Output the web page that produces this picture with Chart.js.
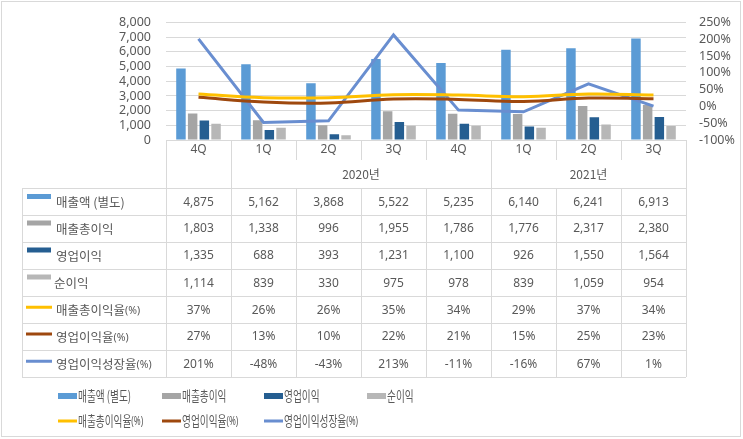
<!DOCTYPE html>
<html>
<head>
<meta charset="utf-8">
<script src="https://cdn.jsdelivr.net/npm/chart.js@4/dist/chart.umd.min.js"></script>
<style>
    body { margin: 0; background: #fff; }
    #wrap { width: 743px; height: 439px; position: relative; }
</style>
</head>
<body>
<div id="wrap"><canvas id="myChart" width="743" height="439"></canvas></div>
<script>
// data
const quarters = ["4Q", "1Q", "2Q", "3Q", "4Q", "1Q", "2Q", "3Q"];
const yearNames = ["", "2020년", "2021년"];
const yearStart = [0, 1, 5];
const yearEnd = [0, 4, 7];

const sales = [4875, 5162, 3868, 5522, 5235, 6140, 6241, 6913];
const grossProfit = [1803, 1338, 996, 1955, 1786, 1776, 2317, 2380];
const opProfit = [1335, 688, 393, 1231, 1100, 926, 1550, 1564];
const netProfit = [1114, 839, 330, 975, 978, 839, 1059, 954];
const grossMargin = [37, 26, 26, 35, 34, 29, 37, 34];
const opMargin = [27, 13, 10, 22, 21, 15, 25, 23];
const opGrowth = [201, -48, -43, 213, -11, -16, 67, 1];

const leftTicks = [0, 8000, 1000];
const rightTicks = [-100, 250, 50];

const FONT = '"Noto Sans", "Noto Sans CJK KR", sans-serif';
const KFONT = '"Noto Sans CJK KR", "Noto Sans", sans-serif';
const TEXT = "#595959";
const LINE = "#D9D9D9";

// rows of the table under the chart
const rows = [
    { name: "매출액 (별도)", pct: "", data: sales, color: "#5B9BD5", kind: "bar" },
    { name: "매출총이익", pct: "", data: grossProfit, color: "#A5A5A5", kind: "bar" },
    { name: "영업이익", pct: "", data: opProfit, color: "#255E91", kind: "bar" },
    { name: "순이익", pct: "", data: netProfit, color: "#B7B7B7", kind: "bar" },
    { name: "매출총이익율", pct: "(%)", data: grossMargin, color: "#FFC000", kind: "line" },
    { name: "영업이익율", pct: "(%)", data: opMargin, color: "#9E480E", kind: "line" },
    { name: "영업이익성장율", pct: "(%)", data: opGrowth, color: "#698ED0", kind: "line" }
];

const rowTop = [188, 214.5, 241.5, 268.5, 296, 322.5, 349.5, 377];

function fmt(row, v) {
    if (row.kind == "line") return v + "%";
    return v.toLocaleString("en-US");
}

function drawName(ctx, row, x, y, size, squeeze) {
    ctx.save();
    ctx.translate(x, y);
    ctx.scale(squeeze, 1);
    ctx.textAlign = "left";
    ctx.textBaseline = "middle";
    ctx.fillStyle = TEXT;
    ctx.font = size + "px " + KFONT;
    ctx.fillText(row.name, 0, 0);
    if (row.pct != "") {
        let w = ctx.measureText(row.name).width;
        ctx.font = (size - 2) + "px " + FONT;
        ctx.fillText(row.pct, w, 1);
    }
    ctx.restore();
}

function drawKey(ctx, row, x, y, w, h) {
    ctx.fillStyle = row.color;
    if (row.kind == "bar")
        ctx.fillRect(x, y - h / 2, w, h);
    else
        ctx.fillRect(x, y - 1.5, w, 3);
}

const tablePlugin = {
    id: "tablePlugin",
    afterDraw(chart) {
        const ctx = chart.ctx;
        const xs = chart.scales.x;
        const left = chart.chartArea.left;
        const right = chart.chartArea.right;
        const bottom = chart.chartArea.bottom;
        const n = quarters.length;
        const cellW = (right - left) / n;

        ctx.save();
        ctx.strokeStyle = LINE;
        ctx.lineWidth = 1;

        // category axis line
        ctx.beginPath();
        ctx.moveTo(left, Math.round(bottom) + 0.5);
        ctx.lineTo(right, Math.round(bottom) + 0.5);
        ctx.stroke();

        // vertical lines
        for (let i = 0; i <= n; i++) {
            let x = Math.round(left + i * cellW) + 0.5;
            let isGroup = yearStart.indexOf(i) >= 0 || i == n;
            ctx.beginPath();
            ctx.moveTo(x, bottom);
            if (isGroup) {
                ctx.lineTo(x, rowTop[rowTop.length - 1]);
            } else {
                ctx.lineTo(x, 160);
                ctx.moveTo(x, rowTop[0]);
                ctx.lineTo(x, rowTop[rowTop.length - 1]);
            }
            ctx.stroke();
        }
        ctx.beginPath();
        ctx.moveTo(22.5, rowTop[0]);
        ctx.lineTo(22.5, rowTop[rowTop.length - 1]);
        ctx.stroke();

        // horizontal lines
        for (let r = 0; r < rowTop.length; r++) {
            let y = Math.round(rowTop[r]) + 0.5;
            ctx.beginPath();
            ctx.moveTo(22, y);
            ctx.lineTo(right, y);
            ctx.stroke();
        }

        // quarter and year labels
        ctx.fillStyle = TEXT;
        ctx.font = "12px " + FONT;
        ctx.textAlign = "center";
        ctx.textBaseline = "middle";
        for (let i = 0; i < n; i++)
            ctx.fillText(quarters[i], xs.getPixelForValue(i), 150);
        ctx.font = "12px " + KFONT;
        for (let g = 0; g < yearNames.length; g++) {
            let cx = (xs.getPixelForValue(yearStart[g]) + xs.getPixelForValue(yearEnd[g])) / 2;
            ctx.fillText(yearNames[g], cx, 174);
        }

        // table rows
        for (let r = 0; r < rows.length; r++) {
            const row = rows[r];
            let cy = (rowTop[r] + rowTop[r + 1]) / 2 + 1;
            if (row.kind == "bar")
                drawKey(ctx, row, 27, rowTop[r] + 8.5, 24, 5);
            else
                drawKey(ctx, row, 26, cy - 3, 26, 3);
            drawName(ctx, row, r == 3 ? 54 : 56, cy, 12.5, 1);
            ctx.fillStyle = TEXT;
            ctx.font = "12px " + FONT;
            ctx.textAlign = "center";
            ctx.textBaseline = "middle";
            for (let i = 0; i < n; i++)
                ctx.fillText(fmt(row, row.data[i]), xs.getPixelForValue(i), cy);
        }

        // legend
        const legendX = [58, 162, 264, 367];
        for (let r = 0; r < rows.length; r++) {
            const row = rows[r];
            let col = r < 4 ? r : r - 4;
            let y = r < 4 ? 396 : 421;
            let x = legendX[col];
            drawKey(ctx, row, x, y, 19, 6);
            drawName(ctx, row, x + 20, y, 14, 0.69);
        }

        // chart border
        ctx.strokeStyle = LINE;
        ctx.strokeRect(1.5, 1.5, 739, 435);
        ctx.restore();
    }
};

const canvas = document.getElementById("myChart");
const ctx = canvas.getContext("2d");

function barSet(row) {
    return {
        type: "bar",
        label: row.name,
        data: row.data,
        backgroundColor: row.color,
        borderWidth: 0,
        yAxisID: "y",
        order: 2,
        categoryPercentage: 0.72,
        barPercentage: 0.81
    };
}

function lineSet(row, smooth) {
    return {
        type: "line",
        label: row.name + row.pct,
        data: row.data,
        borderColor: row.color,
        backgroundColor: row.color,
        borderWidth: 3,
        pointRadius: 0,
        fill: false,
        tension: smooth ? 0.4 : 0,
        yAxisID: "y1",
        order: 1
    };
}

let chart = new Chart(ctx, {
    type: "bar",
    data: {
        labels: quarters,
        datasets: [
            lineSet(rows[4], true),
            lineSet(rows[5], true),
            lineSet(rows[6], false),
            barSet(rows[0]),
            barSet(rows[1]),
            barSet(rows[2]),
            barSet(rows[3])
        ]
    },
    options: {
        responsive: false,
        animation: false,
        layout: { padding: { top: 15, bottom: 299, left: 0, right: 0 } },
        plugins: {
            legend: { display: false },
            tooltip: { enabled: false }
        },
        scales: {
            x: { display: false },
            y: {
                position: "left",
                min: leftTicks[0],
                max: leftTicks[1],
                ticks: {
                    stepSize: leftTicks[2],
                    autoSkip: false,
                    color: TEXT,
                    font: { family: FONT, size: 12.5 },
                    padding: 15,
                    callback: v => v.toLocaleString("en-US")
                },
                grid: { color: LINE, drawTicks: false },
                border: { display: false },
                afterFit(scale) { scale.width = 166; }
            },
            y1: {
                position: "right",
                min: rightTicks[0],
                max: rightTicks[1],
                ticks: {
                    stepSize: rightTicks[2],
                    autoSkip: false,
                    color: TEXT,
                    font: { family: FONT, size: 12.5 },
                    padding: 13,
                    callback: v => v + "%"
                },
                grid: { display: false, drawTicks: false },
                border: { display: false },
                afterFit(scale) { scale.width = 57; }
            }
        }
    },
    plugins: [tablePlugin]
});
</script>
</body>
</html>
